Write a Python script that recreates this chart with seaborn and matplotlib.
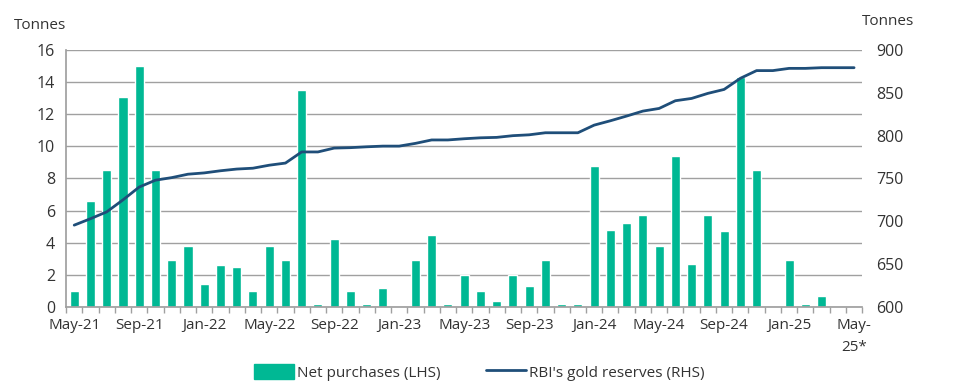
import numpy as np
import pandas as pd
import seaborn as sns
import matplotlib.pyplot as plt
from matplotlib.patches import Patch
from matplotlib.lines import Line2D

# monthly data, May-21 to May-25
months = pd.date_range("2021-05-01", "2025-05-01", freq="MS").strftime("%b-%y").tolist()

net_purchases = [1.0, 6.6, 8.5, 13.1, 15.0, 8.5, 2.9, 3.8, 1.4, 2.6, 2.5, 1.0,
                 3.8, 2.9, 13.5, 0.15, 4.2, 1.0, 0.15, 1.2, 0.0, 2.9, 4.5, 0.15,
                 2.0, 1.0, 0.35, 2.0, 1.3, 2.9, 0.15, 0.15, 8.8, 4.8, 5.2, 5.7,
                 3.8, 9.4, 2.7, 5.7, 4.7, 14.3, 8.5, 0.0, 2.9, 0.15, 0.7, 0.0, 0.0]

gold_reserves = [695.5, 703, 711, 725, 740, 748, 751, 755, 756.5, 759, 761, 762,
                 765.5, 768, 781, 781, 785.5, 786, 787, 787.8, 787.8, 791, 795, 795,
                 796.4, 797.5, 798, 800, 801, 803.4, 803.4, 803.4, 812.3, 817.4, 822.9, 828.7,
                 831.8, 840.8, 843.5, 849.4, 854, 867, 876, 876, 878.6, 878.6, 879.4, 879.4, 879.4]

tick_labels = ["May-21", "Sep-21", "Jan-22", "May-22", "Sep-22", "Jan-23", "May-23",
               "Sep-23", "Jan-24", "May-24", "Sep-24", "Jan-25", "May-\n25*"]

bar_col = "#00B894"
line_col = "#1F4E79"
grid_col = "#A0A0A0"
txt_col = "#333333"

sns.set_theme(style="white")
plt.rcParams['font.family'] = ['Open Sans', 'DejaVu Sans']

df = pd.DataFrame({"month": months, "net": net_purchases, "reserves": gold_reserves})
df["pos"] = np.arange(len(df))

fig = plt.figure(figsize=(9.58, 3.88), dpi=100)
ax = fig.add_axes([0.069, 0.209, 0.831, 0.662])

sns.barplot(data=df, x="month", y="net", color=bar_col, width=0.56, saturation=1, ax=ax)
ax.set_ylim(0, 16)
ax.set_yticks(range(0, 17, 2))
ax.yaxis.grid(True, color=grid_col, linewidth=1)
ax.set_axisbelow(True)
ax.set_xlim(-0.5, len(df) - 0.5)
ax.set_xlabel("")
ax.set_ylabel("")

ax.set_xticks(range(0, len(df), 4))
ax.set_xticklabels(tick_labels, fontsize=11, color=txt_col, linespacing=1.6)
ax.set_xticks(np.arange(-0.5, len(df), 1), minor=True)
ax.tick_params(axis="x", which="major", length=0, pad=8)
ax.tick_params(axis="x", which="minor", length=4, width=1, color=grid_col, direction="out", bottom=True)
ax.tick_params(axis="y", length=0, labelsize=11.5, labelcolor=txt_col, pad=8)

for s in ["top", "right"]:
    ax.spines[s].set_visible(False)
ax.spines["left"].set_color(grid_col)
ax.spines["bottom"].set_color(grid_col)

ax2 = ax.twinx()
sns.lineplot(data=df, x="pos", y="reserves", color=line_col, linewidth=2, ax=ax2)
ax2.set_ylim(600, 900)
ax2.set_yticks(range(600, 901, 50))
ax2.set_xlim(-0.5, len(df) - 0.5)
ax2.set_ylabel("")
ax2.tick_params(axis="y", length=0, labelsize=11.5, labelcolor=txt_col, pad=10)
for s in ["top", "right", "left", "bottom"]:
    ax2.spines[s].set_visible(False)

fig.text(0.015, 0.935, "Tonnes", fontsize=11, color=txt_col, ha="left", va="center")
fig.text(0.900, 0.945, "Tonnes", fontsize=11, color=txt_col, ha="left", va="center")

handles = [Patch(facecolor=bar_col, edgecolor=bar_col, label="Net purchases (LHS)"),
           Line2D([0], [0], color=line_col, linewidth=2, label="RBI's gold reserves (RHS)")]
fig.legend(handles=handles, loc="center", bbox_to_anchor=(0.5, 0.04), ncol=2, frameon=False,
           fontsize=11, handlelength=2.6, handleheight=1.1, handletextpad=0.2, columnspacing=3,
           labelcolor=txt_col)

fig.savefig("out.png", dpi=100)
